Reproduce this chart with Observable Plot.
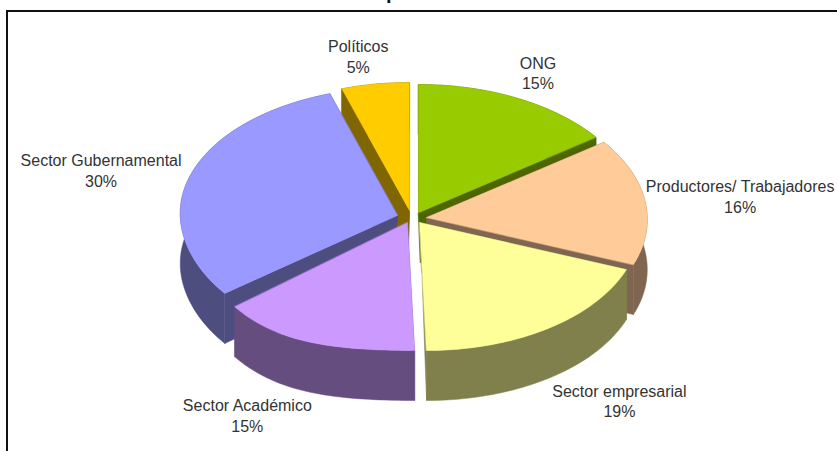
<!DOCTYPE html>
<html lang="es">
<head>
<meta charset="utf-8">
<script src="https://cdn.jsdelivr.net/npm/d3@7"></script>
<script src="https://cdn.jsdelivr.net/npm/@observablehq/plot@0.6"></script>
<style>
  html, body { margin: 0; padding: 0; background: #fff; overflow: hidden; }
  #page { position: relative; width: 837px; height: 451px; overflow: hidden; }
  #title { position: absolute; left: 235px; top: -21px; white-space: nowrap; word-spacing: 16px;
           font: bold 20px "Liberation Sans", Arial, sans-serif; color: #111; line-height: 26px; }
  #title span { margin-right: 26px; }
  #frame { position: absolute; left: 6px; top: 10px; width: 840px; height: 450px;
           border-left: 2px solid #111; border-top: 2px solid #111; }
  #chart { position: absolute; left: 0; top: 0; }
  #chart svg { display: block; background: transparent; }
</style>
</head>
<body>
<div id="page">
  <div id="title"><span>COMITÉ</span> Representación de ONG</div>
  <div id="frame"></div>
  <div id="chart"></div>
</div>
<script>
// Sectors, clockwise from twelve o'clock
const categories = ["ONG", "Productores/ Trabajadores", "Sector empresarial", "Sector Académico", "Sector Gubernamental", "Políticos"];
const shares = [15, 16, 19, 15, 30, 5];
const topColors = ["#99CC00", "#FFCC99", "#FFFF99", "#CC99FF", "#9999FF", "#FFCC00"];
const sideColors = ["#4D6600", "#806650", "#80804D", "#664D80", "#4D4D80", "#806600"];

// Centre of each exploded slice on the page
const centreX = [418, 426, 419, 407, 397, 409];
const centreY = [212, 217, 222, 222, 215, 210];
// Extra downward swell of the rim on the lower-left quadrant, by slice
const swell = [0, 0, 0, 10, 3, 0];
// Nudge of each label from its slice's mid-angle point on the rim
const labelNudgeX = [20, 95, 71, -67, -89, -17];
const labelNudgeY = [-26, -6, 72, 72, -6, -28];

// Tilted-disc projection
const radiusX = 219, radiusY = 128, depth = 50, lean = 7, pivotX = 413;
const toRad = Math.PI / 180;
const project = (i, r, deg) => {
  const a = deg * toRad;
  const lowerLeft = deg > 180 && deg < 270 ? Math.sin(2 * (a - Math.PI)) ** 2 : 0;
  return {
    x: centreX[i] + radiusX * r * Math.sin(a) + lean * r * ((1 - Math.cos(a)) / 2) ** 2,
    y: centreY[i] - radiusY * r * Math.cos(a) + swell[i] * r * lowerLeft
  };
};

// Cumulative angles from the percentages
let running = 0;
const slices = categories.map((name, i) => {
  const start = running * 3.6;
  running += shares[i];
  const end = running * 3.6;
  return {i, name, share: shares[i], start, end, mid: (start + end) / 2};
});

// Faces of a slice, listed as closed outlines in paint order
const rimAngles = (s) => d3.range(s.start, s.end, 1.5).concat(s.end);
const faces = [];
const addFace = (id, color, points) => points.forEach((p) => faces.push({id, color, x: p.x, y: p.y}));
const down = (p, dx = 0) => ({x: p.x + dx, y: p.y + depth});

// Back slices are painted first so the nearer ones cover their walls
const paintOrder = [5, 0, 4, 1, 3, 2];
for (const i of paintOrder) {
  const s = slices[i];
  const apex = project(i, 0, 0);
  const apexLow = down(apex, (apex.x - pivotX) * 0.4);
  const side = sideColors[i];
  for (const deg of [s.start, s.end]) {
    const rim = project(i, 1, deg);
    addFace(`${i}-wall-${deg}`, side, [apex, rim, down(rim), apexLow]);
  }
  const rim = rimAngles(s).map((deg) => project(i, 1, deg));
  addFace(`${i}-rim`, side, [...rim, ...rim.slice().reverse().map((p) => down(p))]);
  addFace(`${i}-top`, topColors[i], [apex, ...rim]);
}

const labels = slices.map((s) => {
  const p = project(s.i, 1, s.mid);
  return {text: `${s.name}\n${s.share}%`, x: p.x + labelNudgeX[s.i], y: p.y + labelNudgeY[s.i]};
});

const chart = Plot.plot({
  width: 837,
  height: 451,
  margin: 0,
  style: {background: "transparent"},
  x: {axis: null, type: "linear", domain: [0, 837], range: [0, 837]},
  y: {axis: null, type: "linear", domain: [0, 451], range: [0, 451]},
  color: {type: "identity"},
  marks: [
    Plot.line(faces, {x: "x", y: "y", z: "id", fill: "color", stroke: "color", strokeWidth: 0.5, curve: "linear-closed"}),
    Plot.text(labels, {
      x: "x", y: "y", text: "text",
      fontFamily: "Liberation Sans, Arial, sans-serif",
      fontSize: 16, lineHeight: 1.3, fill: "#333", textAnchor: "middle"
    })
  ]
});
document.getElementById("chart").append(chart);
</script>
</body>
</html>
